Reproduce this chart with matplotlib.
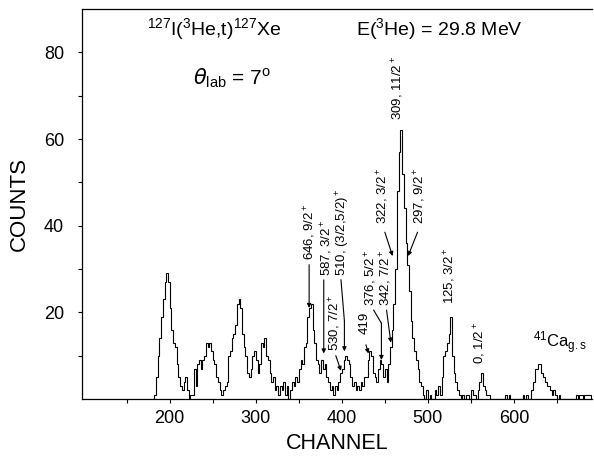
import numpy as np
import matplotlib
matplotlib.use("Agg")
import matplotlib.pyplot as plt
from matplotlib.ticker import FixedLocator

plt.rcParams['font.family'] = ['Liberation Sans', 'DejaVu Sans']
plt.rcParams['mathtext.default'] = 'regular'

# spectrum: counts in 2-channel bins starting at channel 180
first_channel = 180
bin_width = 2
counts = [
    0, 1, 5, 10, 14, 19, 23, 27, 29, 27,      # 180
    21, 16, 13, 12, 8, 5, 3, 2, 4, 5,         # 200
    2, 0, 1, 1, 7, 3, 8, 9, 7, 9,             # 220
    10, 13, 12, 13, 11, 9, 8, 5, 4, 2,        # 240
    1, 2, 3, 4, 10, 11, 14, 15, 17, 22,       # 260
    23, 21, 15, 12, 10, 6, 5, 7, 10, 11,      # 280
    9, 6, 8, 13, 12, 14, 10, 9, 6, 4,         # 300
    5, 2, 3, 1, 3, 2, 4, 1, 3, 0,             # 320
    2, 4, 3, 5, 4, 7, 9, 8, 12, 13,           # 340
    19, 21, 22, 16, 13, 9, 8, 6, 9, 7,        # 360
    8, 5, 4, 2, 3, 1, 3, 2, 4, 6,             # 380
    7, 9, 10, 9, 8, 5, 3, 4, 2, 3,            # 400
    2, 4, 3, 5, 5, 9, 11, 10, 6, 5,           # 420
    4, 7, 9, 8, 5, 7, 4, 8, 12, 16,           # 440
    22, 30, 48, 57, 62, 52, 44, 36, 31, 25,   # 460
    18, 14, 11, 9, 7, 4, 3, 1, 0, 2,          # 480
    0, 1, 0, 0, 2, 1, 3, 1, 5, 10,            # 500
    11, 13, 15, 19, 10, 6, 4, 2, 1, 0,        # 520
    1, 0, 1, 1, 0, 2, 1, 1, 0, 2,             # 540
    4, 6, 3, 2, 1, 1, 0, 0, 0, 0,             # 560
    0, 0, 0, 0, 0, 1, 0, 1, 0, 0,             # 580
    0, 0, 0, 0, 0, 1, 0, 1, 0, 0,             # 600
    2, 4, 7, 7, 8, 8, 6, 5, 4, 3,             # 620
    3, 2, 1, 2, 1, 0, 1, 0, 0, 0,             # 640
    0, 0, 0, 0, 0, 0, 1, 0, 1, 1,             # 660
    0, 1, 1, 1, 1,                            # 680
]

# level labels: text, text position (channel, counts), pointer path
levels = [
    ("646, 9/2$^+$", 363, 32, [(362, 31), (362, 21)]),
    ("587, 3/2$^+$", 383, 28.5, [(379, 27.5), (379, 10.5)]),
    ("510, (3/2,5/2)$^+$", 401, 28.5, [(399, 27.5), (403, 18), (403, 11)]),
    ("530, 7/2$^+$", 392, 11, [(393, 10), (399, 6.5)]),
    ("419", 427, 15, [(428, 12.5), (431, 10.5)]),
    ("376, 5/2$^+$", 434, 21.5, [(437, 20.5), (446, 17.5), (446, 9)]),
    ("342, 7/2$^+$", 451, 21.5, [(452, 20.5), (457, 13)]),
    ("322, 3/2$^+$", 448, 40.5, [(450, 38.5), (459, 33)]),
    ("309, 11/2$^+$", 465, 64.5, []),
    ("297, 9/2$^+$", 491, 40.5, [(488, 38.5), (477, 33)]),
    ("125, 3/2$^+$", 526, 22, []),
    ("0, 1/2$^+$", 561, 8, []),
]

edges = first_channel + bin_width * np.arange(len(counts) + 1)

fig = plt.figure(figsize=(5.94, 4.57), dpi=100)
ax = fig.add_axes([0.138, 0.127, 0.859, 0.853])

ax.stairs(counts, edges, color='black', linewidth=0.8)

for text, x, y, path in levels:
    ax.text(x, y, text, rotation=90, ha='center', va='bottom', fontsize=9.5)
    if path:
        px = [p[0] for p in path]
        py = [p[1] for p in path]
        ax.plot(px[:-1], py[:-1], color='black', linewidth=0.8)
        ax.annotate('', xy=path[-1], xytext=path[-2],
                    arrowprops=dict(arrowstyle='-|>', color='black', lw=0.8,
                                    mutation_scale=6, shrinkA=0, shrinkB=0))

ax.text(622, 13, "$^{41}$Ca$_{g.s}$", fontsize=12, ha='left', va='center')
ax.text(173, 85.5, "$^{127}$I($^{3}$He,t)$^{127}$Xe", fontsize=14, ha='left', va='center')
ax.text(417, 85.5, "E($^{3}$He) = 29.8 MeV", fontsize=14, ha='left', va='center')
ax.text(227, 74, r"$\mathit{\theta}_{lab}$ = 7$^{o}$", fontsize=15, ha='left', va='center')

ax.set_xlim(98, 691)
ax.set_ylim(0, 90)
ax.xaxis.set_major_locator(FixedLocator([200, 300, 400, 500, 600]))
ax.xaxis.set_minor_locator(FixedLocator([150, 250, 350, 450, 550, 650]))
ax.yaxis.set_major_locator(FixedLocator([20, 40, 60, 80]))
ax.yaxis.set_minor_locator(FixedLocator([10, 30, 50, 70]))
ax.tick_params(which='major', direction='out', length=3, width=0.8, labelsize=13)
ax.tick_params(which='minor', direction='out', length=3, width=0.8)
ax.tick_params(axis='x', pad=5)
ax.tick_params(axis='y', pad=10)
ax.spines['right'].set_visible(False)
for s in ['left', 'bottom', 'top']:
    ax.spines[s].set_linewidth(0.9)

ax.set_xlabel("CHANNEL", fontsize=15.5, labelpad=4)
ax.set_ylabel("COUNTS", fontsize=16, labelpad=10)

fig.savefig("out.png", dpi=100)
